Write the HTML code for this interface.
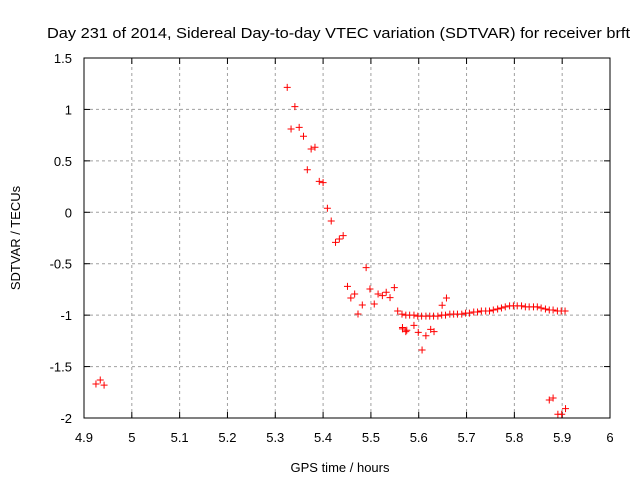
<!DOCTYPE html>
<html><head><meta charset="utf-8"><style>
body{margin:0;background:#fff;}
svg{display:block;font-family:"Liberation Sans",sans-serif;}
</style></head><body>
<svg id="chart" width="640" height="480">
<text x="47" y="38" font-size="15" textLength="583" lengthAdjust="spacingAndGlyphs">Day 231 of 2014, Sidereal Day-to-day VTEC variation (SDTVAR) for receiver brft</text>
<text x="340" y="472" font-size="13" text-anchor="middle">GPS time / hours</text>
<text transform="translate(20,238) rotate(-90)" font-size="13" text-anchor="middle">SDTVAR / TECUs</text>
<g id="grid"></g><g id="ticks"></g><g id="points"></g>
<rect x="84" y="58" width="526" height="360" fill="none" stroke="#000"/>
</svg>
<script>
const xTicks=[4.9,5,5.1,5.2,5.3,5.4,5.5,5.6,5.7,5.8,5.9,6];
const xTickLabels=["4.9","5","5.1","5.2","5.3","5.4","5.5","5.6","5.7","5.8","5.9","6"];
const yTicks=[1.5,1,0.5,0,-0.5,-1,-1.5,-2];
const yTickLabels=["1.5","1","0.5","0","-0.5","-1","-1.5","-2"];
const timeHours=[4.925,4.934,4.942,5.325,5.341,5.333,5.350,5.359,5.375,5.383,5.367,5.392,5.400,5.409,5.417,5.426,5.434,5.442,5.490,5.451,5.466,5.458,5.482,5.473,5.498,5.507,5.515,5.524,5.532,5.540,5.549,5.566,5.575,5.566,5.573,5.590,5.599,5.607,5.615,5.625,5.632,5.649,5.658,5.873,5.881,5.891,5.899,5.907,
5.556,5.565,5.573,5.581,5.590,5.598,5.606,5.615,5.623,5.631,5.640,5.648,5.656,5.665,5.673,5.681,5.690,5.698,5.706,5.715,5.723,5.731,5.740,5.748,5.756,5.765,5.773,5.781,5.790,5.798,5.806,5.815,5.823,5.831,5.840,5.848,5.856,5.865,5.873,5.881,5.890,5.898,5.906];
const sdtvar=[-1.67,-1.63,-1.68,1.215,1.027,0.81,0.826,0.739,0.615,0.632,0.414,0.301,0.288,0.039,-0.085,-0.292,-0.26,-0.227,-0.538,-0.72,-0.794,-0.833,-0.901,-0.989,-0.746,-0.892,-0.794,-0.81,-0.778,-0.83,-0.733,-1.12,-1.147,-1.134,-1.16,-1.10,-1.167,-1.339,-1.2,-1.138,-1.16,-0.904,-0.833,-1.825,-1.805,-1.964,-1.964,-1.909,
-0.96,-0.99,-1.00,-1.00,-1.00,-1.01,-1.01,-1.01,-1.01,-1.01,-1.01,-1.00,-1.00,-0.99,-0.99,-0.99,-0.99,-0.98,-0.98,-0.97,-0.97,-0.96,-0.96,-0.96,-0.95,-0.94,-0.93,-0.92,-0.91,-0.91,-0.91,-0.91,-0.92,-0.92,-0.92,-0.92,-0.93,-0.94,-0.95,-0.95,-0.96,-0.96,-0.96];
const NS="http://www.w3.org/2000/svg";
const X0=84,X1=610,Y0=418,Y1=58;
function xs(v){return X0+(v-4.9)/(6-4.9)*(X1-X0);}
function ys(v){return Y0-(v+2)/3.5*(Y0-Y1);}
function mk(tag,attrs,parent){const e=document.createElementNS(NS,tag);for(const k in attrs)e.setAttribute(k,attrs[k]);parent.appendChild(e);return e;}
const grid=document.getElementById('grid'),ticks=document.getElementById('ticks'),pts=document.getElementById('points');
xTicks.forEach((t,i)=>{const x=xs(t);
 if(i>0&&i<xTicks.length-1){const g=mk('line',{x1:x,x2:x,y1:Y0,y2:Y1,stroke:'#a0a0a0','stroke-dasharray':'3,3'},grid);
 
 }
 mk('line',{x1:x,x2:x,y1:Y0,y2:Y0-6,stroke:'#000'},ticks);
 mk('line',{x1:x,x2:x,y1:Y1,y2:Y1+6,stroke:'#000'},ticks);
 const l=mk('text',{x:x,y:Y0+24,'font-size':13,'text-anchor':'middle'},ticks);l.textContent=xTickLabels[i];
 
 });
yTicks.forEach((t,i)=>{const y=ys(t);
 if(i>0&&i<yTicks.length-1){const g=mk('line',{x1:X0,x2:X1,y1:y,y2:y,stroke:'#a0a0a0','stroke-dasharray':'3,3'},grid);
 
 }
 mk('line',{x1:X0,x2:X0+6,y1:y,y2:y,stroke:'#000'},ticks);
 mk('line',{x1:X1,x2:X1-6,y1:y,y2:y,stroke:'#000'},ticks);
 const l=mk('text',{x:72,y:y+5,'font-size':13,'text-anchor':'end'},ticks);l.textContent=yTickLabels[i];
 
 });
timeHours.forEach((t,i)=>{const x=xs(t),y=ys(sdtvar[i]);
 const p=mk('path',{d:`M${x-3.5},${y}H${x+3.5}M${x},${y-3.5}V${y+3.5}`,stroke:'#ff0000','stroke-width':1},pts);
 
 });
</script>
</body></html>
